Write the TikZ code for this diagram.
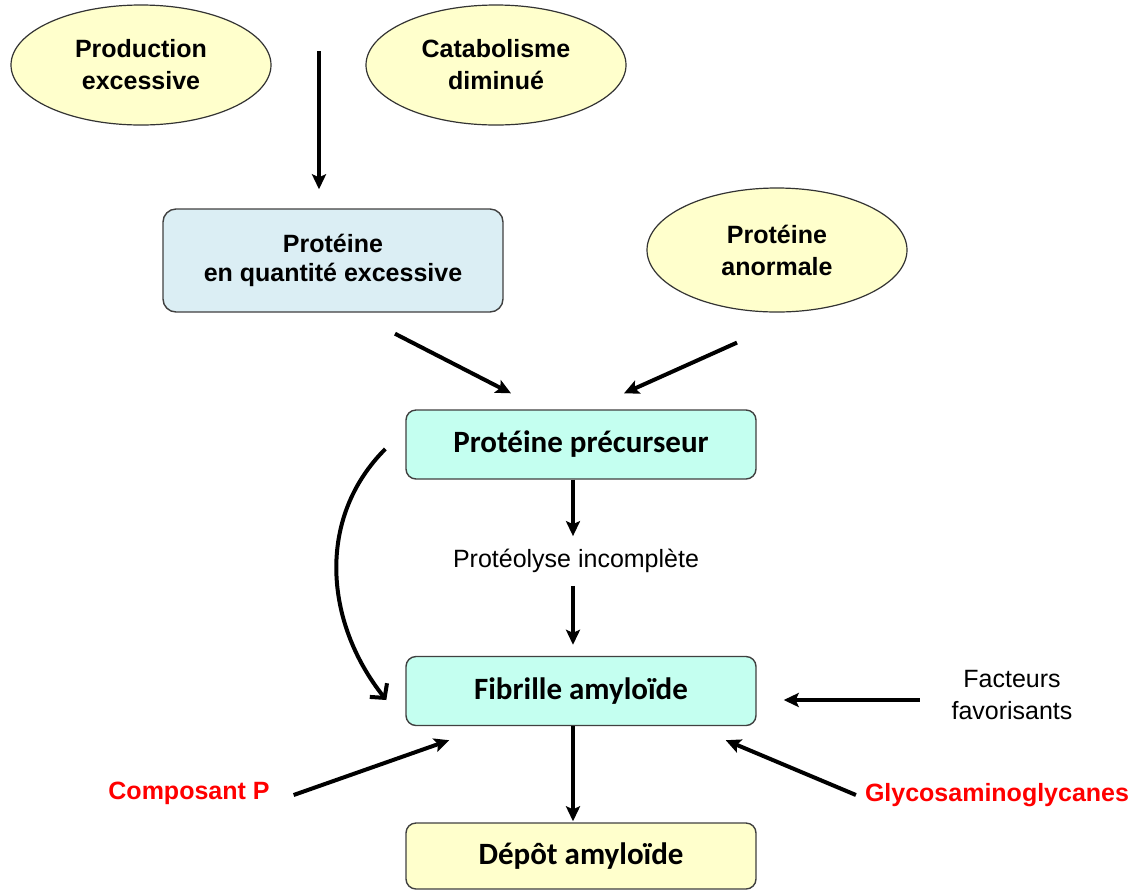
\documentclass[tikz,border=0pt]{standalone}
\usepackage{fontspec}
\setmainfont{Liberation Sans}
\newfontfamily\carlito{Carlito}
\usetikzlibrary{arrows.meta,shapes.geometric,positioning}
\definecolor{ovaljaune}{RGB}{255,255,204}
\definecolor{bleupale}{RGB}{219,238,244}
\definecolor{menthe}{RGB}{196,255,240}
\definecolor{depotjaune}{RGB}{255,255,204}

\begin{document}
\begin{tikzpicture}[x=0.5pt, y=-0.5pt,
  every node/.style={font=\fontsize{12.5}{16}\selectfont},
  cause/.style={ellipse, draw=black!80, line width=0.6pt, fill=ovaljaune,
                minimum width=130pt, minimum height=60pt, inner sep=0pt,
                align=center, font=\fontsize{12.5}{16}\selectfont\bfseries},
  quantite/.style={draw=black!75, line width=0.7pt, rounded corners=6.5pt,
                   fill=bleupale, minimum width=170pt, minimum height=51.5pt,
                   align=center, font=\fontsize{12.5}{14.5}\selectfont\bfseries},
  etape/.style={draw=black!75, line width=0.7pt, rounded corners=5pt,
                fill=menthe, minimum width=175pt, minimum height=34.5pt,
                align=center, font=\carlito\fontsize{15.5}{18}\selectfont\bfseries},
  facteur/.style={text=red, font=\fontsize{12.5}{16}\selectfont\bfseries},
  fleche/.style={-{Stealth[length=7.5pt, width=7pt, inset=1.5pt]}, line width=2pt},
  courbe/.style={-{Straight Barb[length=5pt, width=11pt]}, line width=2pt},
]
\useasboundingbox (0,0) rectangle (1140,890);

%% Causes
\node[cause] (prod) at (141,65) {Production\\excessive};
\node[cause] (catab) at (496,65) {Catabolisme\\diminué};
\node[cause, minimum height=62pt] (anorm) at (777,250) {Protéine\\anormale};

%% Boxes
\node[quantite] (qte) at (333,260.5) {Protéine\\en quantité excessive};
\node[etape] (prec) at (581,444.5) {Protéine précurseur};
\node (proteo) at (576,561) {Protéolyse incomplète};
\node[etape] (fib) at (581,691) {Fibrille amyloïde};
\node[etape, fill=depotjaune, minimum height=33pt] (dep) at (581,856) {Dépôt amyloïde};

%% Side labels
\node[align=center] (fact) at (1012,695) {Facteurs\\favorisants};
\node[facteur] (comp) at (189,793) {Composant P};
\node[facteur] (glyco) at (997,795) {Glycosaminoglycanes};

%% Arrows
\draw[fleche] ([shift={(-14,-157)}]qte.north) -- ([shift={(-14,-19)}]qte.north);
\draw[fleche] ([shift={(62,21)}]qte.south) -- ([shift={(-70,-16)}]prec.north);
\draw[fleche] ([shift={(-40,30)}]anorm.south) -- ([shift={(43,-16)}]prec.north);
\draw[fleche] ([shift={(-8,0)}]prec.south) -- ([shift={(-3,-6)}]proteo.north);
\draw[fleche] ([shift={(-3,6)}]proteo.south) -- ([shift={(-8,-11)}]fib.north);
\draw[fleche] ([shift={(-8,0)}]fib.south) -- ([shift={(-8,-1)}]dep.north);
\draw[courbe] ([shift={(-20,4.5)}]prec.west)
  .. controls +(-69,69) and +(-62,-78) .. ([shift={(-19,9)}]fib.west);
\draw[fleche] ([shift={(-25,5)}]fact.west) -- ([shift={(27,9)}]fib.east);
\draw[fleche] ([shift={(17,2)}]comp.east) -- ([shift={(44,14)}]fib.south west);
\draw[fleche] ([shift={(-2,0)}]glyco.west) -- ([shift={(-31,14)}]fib.south east);

\end{tikzpicture}
\end{document}
